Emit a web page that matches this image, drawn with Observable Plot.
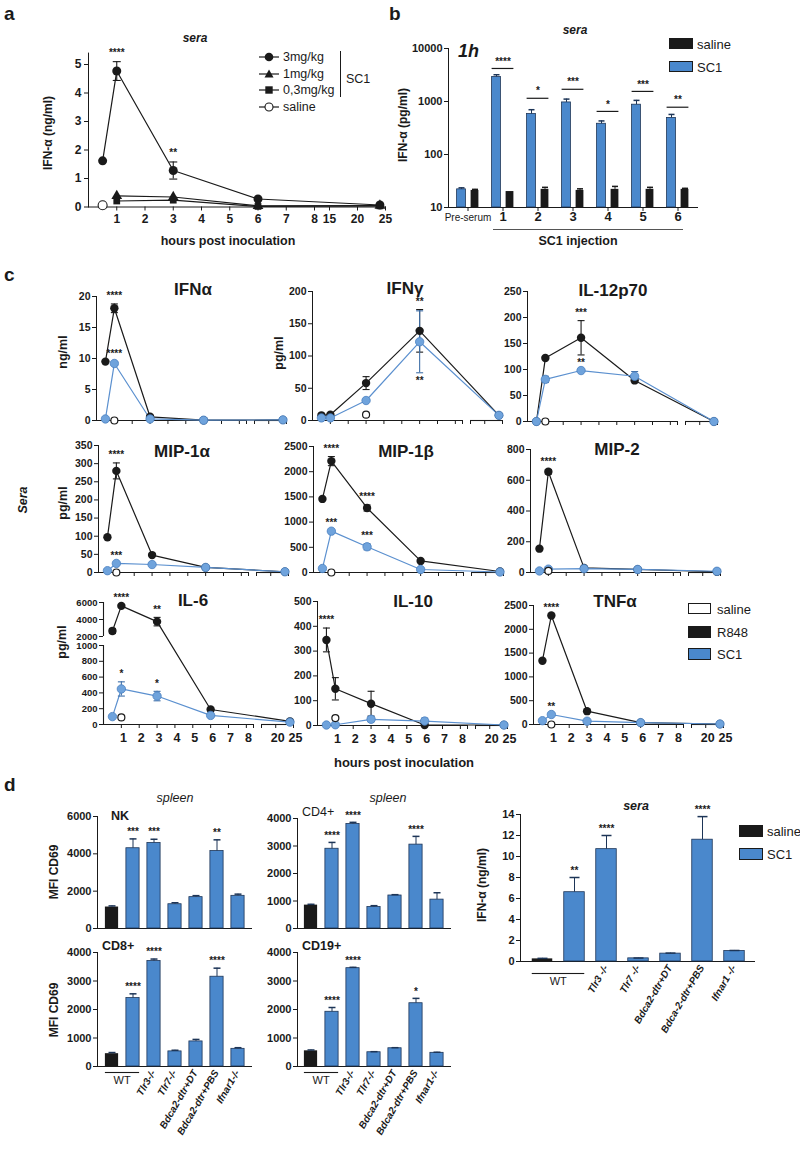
<!DOCTYPE html>
<html><head><meta charset="utf-8">
<script src="https://cdn.jsdelivr.net/npm/d3@7"></script>
<script src="https://cdn.jsdelivr.net/npm/@observablehq/plot@0.6"></script>
<style>
body{margin:0;background:#fff;}
#fig{position:relative;width:800px;height:1150px;overflow:hidden;font-family:"Liberation Sans",Arial,Helvetica,sans-serif;color:#1a1a1a;background:#fff;}
#fig svg{position:absolute;left:0;top:0;}
.t{position:absolute;white-space:nowrap;line-height:1;}
.sw{position:absolute;box-sizing:border-box;border:1.2px solid #1a1a1a;}
</style></head><body><div id="fig"></div>
<script>
// ================= DATA =================
// Panel a
const aHours = [0.5, 1, 3, 6, 24];
const a3mg = [1.62, 4.77, 1.28, 0.28, 0.07];
const a3mgErr = [0, 0.33, 0.30, 0, 0];
const a3mgSig = ["", "****", "**", "", ""];
const aHoursLow = [1, 3, 6, 24];
const a1mg = [0.39, 0.35, 0.04, 0.05];
const a03mg = [0.21, 0.24, 0.02, 0.04];
const aSalineHours = [0.5];
const aSaline = [0.06];
const aXTicks = [1, 2, 3, 4, 5, 6, 7, 8, 15, 20, 25];
const aYTicks = [0, 1, 2, 3, 4, 5];

// Panel b
const bGroups = ["Pre-serum", "1", "2", "3", "4", "5", "6"];
const bSC1 = [22, 2900, 580, 960, 380, 870, 490];
const bSC1Err = [1.5, 300, 120, 150, 50, 180, 80];
const bSaline = [21, 20, 22, 21, 22, 22, 22];
const bSalineErr = [1, 0, 2, 1.5, 3, 2, 1];
const bSig = ["", "****", "*", "***", "*", "***", "**"];
const bSigLevel = [0, 4200, 1150, 1700, 650, 1550, 780];
const bYTicks = [10, 100, 1000, 10000];

// Panel c (time points in hours)
const cTimes = [0.5, 1, 3, 6, 24];
const cXTicks = [1, 2, 3, 4, 5, 6, 7, 8, 8.4, 16, 20, 25];
const cXLabels = [1, 2, 3, 4, 5, 6, 7, 8, 20, 25];

const IFNa_R848 = [9.5, 18.1, 0.6, 0.05, 0.1], IFNa_R848_err = [0, 0.7, 0, 0, 0], IFNa_R848_sig = ["", "****", "", "", ""];
const IFNa_SC1 = [0.25, 9.2, 0.25, 0.05, 0.1], IFNa_SC1_err = [0, 0.3, 0, 0, 0], IFNa_SC1_sig = ["", "****", "", "", ""];
const IFNa_saline = [1, 0];

const IFNg_R848 = [8, 9, 58, 139, 8], IFNg_R848_err = [0, 0, 10, 33, 0], IFNg_R848_sig = ["", "", "", "**", ""];
const IFNg_SC1 = [4, 4, 31, 122, 8], IFNg_SC1_err = [0, 0, 0, 48, 0], IFNg_SC1_sig = ["", "", "", "**", ""];
const IFNg_saline = [3, 9];

const IL12_R848 = [0, 122, 161, 79, 0], IL12_R848_err = [0, 0, 33, 0, 0], IL12_R848_sig = ["", "", "***", "", ""];
const IL12_SC1 = [0, 81, 98, 87, 0], IL12_SC1_err = [0, 6, 0, 9, 0], IL12_SC1_sig = ["", "", "**", "", ""];
const IL12_saline = [1, 0];

const MIP1a_R848 = [97, 280, 48, 14, 2], MIP1a_R848_err = [0, 22, 0, 0, 0], MIP1a_R848_sig = ["", "****", "", "", ""];
const MIP1a_SC1 = [5, 25, 22, 14, 2], MIP1a_SC1_err = [0, 0, 0, 0, 0], MIP1a_SC1_sig = ["", "***", "", "", ""];
const MIP1a_saline = [1, 0];

const MIP1b_R848 = [1460, 2210, 1280, 230, 20], MIP1b_R848_err = [0, 90, 60, 0, 0], MIP1b_R848_sig = ["", "****", "****", "", ""];
const MIP1b_SC1 = [80, 820, 510, 60, 10], MIP1b_SC1_err = [0, 0, 60, 0, 0], MIP1b_SC1_sig = ["", "***", "***", "", ""];
const MIP1b_saline = [1, 0];

const MIP2_R848 = [155, 655, 30, 20, 5], MIP2_R848_err = [0, 15, 0, 0, 0], MIP2_R848_sig = ["", "****", "", "", ""];
const MIP2_SC1 = [10, 22, 25, 20, 8], MIP2_SC1_err = [0, 0, 0, 0, 0], MIP2_SC1_sig = ["", "", "", "", ""];
const MIP2_saline = [1, 10];

const IL6_R848 = [2650, 5600, 3750, 190, 40], IL6_R848_err = [300, 0, 500, 0, 0], IL6_R848_sig = ["", "****", "**", "", ""];
const IL6_SC1 = [100, 450, 360, 115, 30], IL6_SC1_err = [0, 90, 60, 0, 0], IL6_SC1_sig = ["", "*", "*", "", ""];
const IL6_saline = [1, 90];

const IL10_R848 = [345, 148, 88, 2, 2], IL10_R848_err = [48, 45, 50, 0, 0], IL10_R848_sig = ["****", "", "", "", ""];
const IL10_SC1 = [2, 3, 25, 18, 2], IL10_SC1_err = [0, 0, 10, 12, 0], IL10_SC1_sig = ["", "", "", "", ""];
const IL10_saline = [1, 30];

const TNF_R848 = [1340, 2290, 280, 40, 10], TNF_R848_err = [0, 0, 0, 0, 0], TNF_R848_sig = ["", "****", "", "", ""];
const TNF_SC1 = [80, 210, 70, 40, 10], TNF_SC1_err = [0, 0, 0, 0, 0], TNF_SC1_sig = ["", "**", "", "", ""];
const TNF_saline = [1, 0];

// Panel d
const dGroups = ["WT saline", "WT", "Tlr3-/-", "Tlr7-/-", "Bdca2-dtr+DT", "Bdca2-dtr+PBS", "Ifnar1-/-"];
const dLabelsLeft = ["", "", "Tlr3-/-", "Tlr7-/-", "Bdca2-dtr+DT", "Bdca2-dtr+PBS", "Ifnar1-/-"];
const dLabelsRight = ["", "", "Tlr3 -/-", "Tlr7 -/-", "Bdca2-dtr+DT", "Bdca-2-dtr+PBS", "Ifnar1 -/-"];
const NK = [1150, 4300, 4580, 1300, 1680, 4150, 1750], NK_err = [60, 500, 200, 80, 80, 600, 90], NK_sig = ["", "***", "***", "", "", "**", ""];
const CD4 = [850, 2900, 3800, 780, 1200, 3050, 1050], CD4_err = [30, 230, 60, 50, 30, 300, 250], CD4_sig = ["", "****", "****", "", "", "****", ""];
const CD8 = [450, 2400, 3700, 530, 880, 3150, 620], CD8_err = [40, 150, 70, 40, 70, 300, 40], CD8_sig = ["", "****", "****", "", "", "****", ""];
const CD19 = [550, 1920, 3450, 500, 640, 2220, 480], CD19_err = [30, 150, 30, 20, 20, 170, 20], CD19_sig = ["", "****", "****", "", "", "*", ""];
const SERA = [0.25, 6.6, 10.7, 0.3, 0.75, 11.6, 1.0], SERA_err = [0.05, 1.4, 1.3, 0.03, 0.05, 2.2, 0.05], SERA_sig = ["", "**", "****", "", "", "****", ""];

// ================= STYLE / HELPERS =================
const FONT = '"Liberation Sans", Arial, Helvetica, sans-serif';
const BLACK = "#1a1a1a";
const BLUE = "#4a88cc";
const BLUE_STROKE = "#1d3557";
const LBLUE = "#6fa3dc";
const LBLUE_LINE = "#5b90cf";
const fig = document.getElementById("fig");
const cap = {draw(ctx, size) { const r = Math.sqrt(size / Math.PI); ctx.moveTo(-r, 0); ctx.lineTo(r, 0); }};
const fmt = d => String(d);

function txt(s, x, y, o = {}) {
  const d = document.createElement("div");
  d.className = "t";
  d.textContent = s;
  d.style.fontSize = (o.size || 12) + "px";
  d.style.fontWeight = o.weight || "bold";
  d.style.fontStyle = o.italic ? "italic" : "normal";
  d.style.left = x + "px";
  d.style.top = y + "px";
  const ax = o.anchor === "start" ? "0%" : o.anchor === "end" ? "-100%" : "-50%";
  d.style.transform = `translate(${ax}, -50%)` + (o.rotate ? ` rotate(${o.rotate}deg)` : "");
  fig.appendChild(d);
}
function box(x, y, w, h, fill) {
  const d = document.createElement("div");
  d.className = "sw";
  Object.assign(d.style, {left: x + "px", top: y + "px", width: w + "px", height: h + "px", background: fill});
  fig.appendChild(d);
}
function P(L, R, T, B, opts, fs = 11) {
  const svg = Plot.plot(Object.assign({
    width: 800, height: 1150,
    marginLeft: L, marginRight: 800 - R, marginTop: T, marginBottom: 1150 - B,
    style: {background: "transparent", fontFamily: FONT, fontSize: fs + "px", fontWeight: "bold", color: BLACK, overflow: "visible"}
  }, opts));
  svg.style.position = "absolute"; svg.style.left = "0px"; svg.style.top = "0px";
  fig.appendChild(svg);
}

// ================= PANEL A =================
{
  const rows3 = aHours.map((t, i) => ({s: "3mg/kg", t, v: a3mg[i], e: a3mgErr[i], sig: a3mgSig[i]}));
  const rows1 = aHoursLow.map((t, i) => ({s: "1mg/kg", t, v: a1mg[i]}));
  const rows03 = aHoursLow.map((t, i) => ({s: "0,3mg/kg", t, v: a03mg[i]}));
  const sal = aSalineHours.map((t, i) => ({t, v: aSaline[i]}));
  const errs = rows3.filter(d => d.e > 0);
  const caps = errs.flatMap(d => [{t: d.t, y: d.v - d.e}, {t: d.t, y: d.v + d.e}]);
  P(88, 385, 52.6, 206.5, {
    x: {type: "linear", domain: [0, 8, 15, 25], range: [88, 314, 329, 385], ticks: aXTicks, tickFormat: fmt, tickSize: 4, tickPadding: 3, line: true, label: null},
    y: {type: "linear", domain: [0, 5.4], ticks: aYTicks, tickFormat: fmt, tickSize: 4, tickPadding: 3, line: true, label: null},
    marks: [
      Plot.line([...rows3, ...rows1, ...rows03], {x: "t", y: "v", z: "s", stroke: BLACK, strokeWidth: 1.2}),
      Plot.ruleX(errs, {x: "t", y1: d => d.v - d.e, y2: d => d.v + d.e, stroke: BLACK, strokeWidth: 1.1}),
      Plot.dot(caps, {x: "t", y: "y", symbol: cap, r: 4, stroke: BLACK, fill: "none", strokeWidth: 1.1}),
      Plot.dot(rows3, {x: "t", y: "v", r: 4.5, fill: BLACK}),
      Plot.dot(rows1, {x: "t", y: "v", symbol: "triangle", r: 4, fill: BLACK}),
      Plot.dot(rows03, {x: "t", y: "v", symbol: "square", r: 3.8, fill: BLACK}),
      Plot.dot(sal, {x: "t", y: "v", r: 4.5, fill: "white", stroke: BLACK, strokeWidth: 1.1}),
      Plot.text(rows3.filter(d => d.sig), {x: "t", y: d => d.v + d.e, text: "sig", dy: -9, fontSize: 10})
    ]
  }, 12);
  txt("a", 4, 13, {size: 19, anchor: "start"});
  txt("sera", 195, 38, {size: 12, italic: true});
  txt("IFN-α (ng/ml)", 48, 133, {size: 12, rotate: -90});
  txt("hours post inoculation", 228, 241, {size: 12.5});
  // legend
  const leg = [["3mg/kg", "circle"], ["1mg/kg", "triangle"], ["0,3mg/kg", "square"], ["saline", "open"]];
  const legY = [57, 74, 90, 107];
  leg.forEach(([lab, sym], i) => {
    const s = document.createElementNS("http://www.w3.org/2000/svg", "svg");
    s.setAttribute("width", 22); s.setAttribute("height", 12);
    s.style.left = "258px"; s.style.top = (legY[i] - 6) + "px";
    let g = `<line x1="1" y1="6" x2="21" y2="6" stroke="${BLACK}" stroke-width="1.2"/>`;
    if (sym === "circle") g += `<circle cx="11" cy="6" r="4.3" fill="${BLACK}"/>`;
    if (sym === "triangle") g += `<path d="M11,1.5 L15.5,9.5 L6.5,9.5Z" fill="${BLACK}"/>`;
    if (sym === "square") g += `<rect x="7.3" y="2.3" width="7.4" height="7.4" fill="${BLACK}"/>`;
    if (sym === "open") g += `<circle cx="11" cy="6" r="4" fill="white" stroke="${BLACK}" stroke-width="1.1"/>`;
    s.innerHTML = g;
    fig.appendChild(s);
    txt(lab, 283, legY[i], {size: 12.5, weight: "normal", anchor: "start"});
  });
  const bar = document.createElement("div");
  Object.assign(bar.style, {position: "absolute", left: "340px", top: "51px", width: "0px", height: "46px", borderLeft: "1.2px solid #1a1a1a"});
  fig.appendChild(bar);
  txt("SC1", 346, 79, {size: 12.5, weight: "normal", anchor: "start"});
}

// ================= PANEL B =================
{
  const sc1 = bGroups.map((g, i) => ({g, v: bSC1[i], e: bSC1Err[i]}));
  const sal = bGroups.map((g, i) => ({g, v: bSaline[i], e: bSalineErr[i]}));
  const sig = bGroups.map((g, i) => ({g, s: bSig[i], y: bSigLevel[i]})).filter(d => d.s);
  P(448, 697, 48, 207, {
    x: {type: "band", domain: bGroups, range: [449.4, 695.6], padding: 0, tickSize: 4, tickFormat: () => "", line: true, label: null},
    y: {type: "log", domain: [10, 10000], range: [207, 48], ticks: bYTicks, tickFormat: fmt, tickSize: 4, tickPadding: 2, line: true, label: null},
    marks: [
      Plot.barY(sc1, {x: "g", y1: 10, y2: "v", fill: BLUE, stroke: BLUE_STROKE, strokeWidth: 0.8, insetLeft: 6.6, insetRight: 19.6}),
      Plot.barY(sal, {x: "g", y1: 10, y2: "v", fill: BLACK, insetLeft: 20.6, insetRight: 6.6}),
      Plot.ruleX(sc1, {x: "g", y1: "v", y2: d => d.v + d.e, dx: -6.5, stroke: BLUE_STROKE}),
      Plot.dot(sc1, {x: "g", y: d => d.v + d.e, dx: -6.5, symbol: cap, r: 3, stroke: BLUE_STROKE, fill: "none"}),
      Plot.ruleX(sal.filter(d => d.e > 0), {x: "g", y1: "v", y2: d => d.v + d.e, dx: 7, stroke: BLACK}),
      Plot.dot(sal.filter(d => d.e > 0), {x: "g", y: d => d.v + d.e, dx: 7, symbol: cap, r: 3, stroke: BLACK, fill: "none"}),
      Plot.tickY(sig, {x: "g", y: "y", insetLeft: 6.6, insetRight: 6.6, stroke: BLACK, strokeWidth: 1.2}),
      Plot.text(sig, {x: "g", y: "y", text: "s", dy: -7, fontSize: 10}),
      Plot.text(bGroups.slice(0, 1), {x: d => d, frameAnchor: "bottom", dy: 13, fontSize: 10, fontWeight: "normal"}),
      Plot.text(bGroups.slice(1), {x: d => d, frameAnchor: "bottom", dy: 13, fontSize: 13})
    ]
  }, 11);
  txt("b", 389, 13, {size: 19, anchor: "start"});
  txt("sera", 575, 30, {size: 12, italic: true});
  txt("1h", 458, 51, {size: 18, italic: true, anchor: "start"});
  txt("IFN-α (pg/ml)", 403, 125, {size: 12, rotate: -90});
  const ln = document.createElement("div");
  Object.assign(ln.style, {position: "absolute", left: "493px", top: "229px", width: "190px", height: "0px", borderTop: "1.3px solid #555"});
  fig.appendChild(ln);
  txt("SC1 injection", 578, 241, {size: 12.5});
  box(669, 38, 24, 11, BLACK);
  txt("saline", 697, 44, {size: 13, weight: "normal", anchor: "start"});
  box(669, 61, 24, 11, BLUE);
  txt("SC1", 697, 67, {size: 13, weight: "normal", anchor: "start"});
}

// ================= PANEL C =================
const xBreak = [8.4, 16];
const cPanels = [
  {name: "IFNα", tx: 193, ty: 289, L: 96, T: 296, B: 420, dom: [0, 20], ticks: [0, 5, 10, 15, 20], R848: IFNa_R848, R848err: IFNa_R848_err, R848sig: IFNa_R848_sig, SC1: IFNa_SC1, SC1err: IFNa_SC1_err, SC1sig: IFNa_SC1_sig, saline: IFNa_saline},
  {name: "IFNγ", tx: 405, ty: 288, L: 312, T: 291, B: 420, dom: [0, 200], ticks: [0, 50, 100, 150, 200], R848: IFNg_R848, R848err: IFNg_R848_err, R848sig: IFNg_R848_sig, SC1: IFNg_SC1, SC1err: IFNg_SC1_err, SC1sig: IFNg_SC1_sig, saline: IFNg_saline, sc1Below: true},
  {name: "IL-12p70", tx: 613, ty: 290, L: 527, T: 291, B: 421, dom: [0, 250], ticks: [0, 50, 100, 150, 200, 250], R848: IL12_R848, R848err: IL12_R848_err, R848sig: IL12_R848_sig, SC1: IL12_SC1, SC1err: IL12_SC1_err, SC1sig: IL12_SC1_sig, saline: IL12_saline},
  {name: "MIP-1α", tx: 182, ty: 451, L: 98, T: 445, B: 572, dom: [0, 350], ticks: [0, 50, 100, 150, 200, 250, 300, 350], R848: MIP1a_R848, R848err: MIP1a_R848_err, R848sig: MIP1a_R848_sig, SC1: MIP1a_SC1, SC1err: MIP1a_SC1_err, SC1sig: MIP1a_SC1_sig, saline: MIP1a_saline},
  {name: "MIP-1β", tx: 406, ty: 451, L: 313, T: 446, B: 572, dom: [0, 2500], ticks: [0, 500, 1000, 1500, 2000, 2500], R848: MIP1b_R848, R848err: MIP1b_R848_err, R848sig: MIP1b_R848_sig, SC1: MIP1b_SC1, SC1err: MIP1b_SC1_err, SC1sig: MIP1b_SC1_sig, saline: MIP1b_saline},
  {name: "MIP-2", tx: 617, ty: 449, L: 530, T: 449, B: 572, dom: [0, 800], ticks: [0, 200, 400, 600, 800], R848: MIP2_R848, R848err: MIP2_R848_err, R848sig: MIP2_R848_sig, SC1: MIP2_SC1, SC1err: MIP2_SC1_err, SC1sig: MIP2_SC1_sig, saline: MIP2_saline},
  {name: "IL-6", tx: 193, ty: 600, L: 103, T: 602, B: 724, dom: [0, 1000, 2000, 6000], range: [724, 645, 636, 602], yBreak: [1000, 2000], ticks: [0, 200, 400, 600, 800, 1000, 2000, 4000, 6000], R848: IL6_R848, R848err: IL6_R848_err, R848sig: IL6_R848_sig, SC1: IL6_SC1, SC1err: IL6_SC1_err, SC1sig: IL6_SC1_sig, saline: IL6_saline, bottom: true, yfs: 9.5},
  {name: "IL-10", tx: 413, ty: 601, L: 317, T: 601, B: 725, dom: [0, 500], ticks: [0, 100, 200, 300, 400, 500], R848: IL10_R848, R848err: IL10_R848_err, R848sig: IL10_R848_sig, SC1: IL10_SC1, SC1err: IL10_SC1_err, SC1sig: IL10_SC1_sig, saline: IL10_saline, bottom: true},
  {name: "TNFα", tx: 615, ty: 601, L: 533, T: 605, B: 724, dom: [0, 2500], ticks: [0, 500, 1000, 1500, 2000, 2500], R848: TNF_R848, R848err: TNF_R848_err, R848sig: TNF_R848_sig, SC1: TNF_SC1, SC1err: TNF_SC1_err, SC1sig: TNF_SC1_sig, saline: TNF_saline, bottom: true}
];
function drawC(c) {
  const xr = [c.L, c.L + 150, c.L + 158, c.L + 190];
  const mk = (s, vals, errs, sigs) => cTimes.map((t, i) => ({s, t, v: vals[i], e: errs[i], sig: sigs[i]}));
  const r848 = mk("R848", c.R848, c.R848err, c.R848sig);
  const sc1 = mk("SC1", c.SC1, c.SC1err, c.SC1sig);
  const er = r848.filter(d => d.e > 0), es = sc1.filter(d => d.e > 0);
  const capsOf = a => a.flatMap(d => [{t: d.t, y: d.v - d.e}, {t: d.t, y: d.v + d.e}]);
  const top = d => d.v + d.e, bot = d => d.v - d.e;
  const starsAbove = [...r848.filter(d => d.sig), ...(c.sc1Below ? [] : sc1.filter(d => d.sig))];
  const starsBelow = c.sc1Below ? sc1.filter(d => d.sig) : [];
  const marks = [
    Plot.ruleY([0], {x1: 0, x2: xBreak[0], stroke: BLACK, strokeWidth: 1.1}),
    Plot.ruleY([0], {x1: xBreak[1], x2: 25, stroke: BLACK, strokeWidth: 1.1})
  ];
  if (c.yBreak) {
    marks.push(Plot.ruleX([0], {y1: 0, y2: c.yBreak[0], stroke: BLACK, strokeWidth: 1.1}));
    marks.push(Plot.ruleX([0], {y1: c.yBreak[1], y2: c.dom[c.dom.length - 1], stroke: BLACK, strokeWidth: 1.1}));
  }
  marks.push(
    Plot.line(r848, {x: "t", y: "v", stroke: BLACK, strokeWidth: 1.2}),
    Plot.line(sc1, {x: "t", y: "v", stroke: LBLUE_LINE, strokeWidth: 1.2}),
    Plot.ruleX(er, {x: "t", y1: bot, y2: top, stroke: BLACK, strokeWidth: 1.1}),
    Plot.dot(capsOf(er), {x: "t", y: "y", symbol: cap, r: 3.5, stroke: BLACK, fill: "none", strokeWidth: 1.1}),
    Plot.ruleX(es, {x: "t", y1: bot, y2: top, stroke: "#3f6fa8", strokeWidth: 1.1}),
    Plot.dot(capsOf(es), {x: "t", y: "y", symbol: cap, r: 3.5, stroke: "#3f6fa8", fill: "none", strokeWidth: 1.1}),
    Plot.dot(r848, {x: "t", y: "v", r: 4.2, fill: BLACK}),
    Plot.dot(sc1, {x: "t", y: "v", r: 4.2, fill: LBLUE, stroke: "#4a80c0", strokeWidth: 0.8}),
    Plot.dot([{t: c.saline[0], v: c.saline[1]}], {x: "t", y: "v", r: 3.5, fill: "white", stroke: BLACK, strokeWidth: 1.2}),
    Plot.text(starsAbove, {x: "t", y: top, text: "sig", dy: -8, fontSize: 10}),
    Plot.text(starsBelow, {x: "t", y: bot, text: "sig", dy: 8, fontSize: 10})
  );
  if (c.bottom) marks.push(Plot.text(cXLabels, {x: d => d, frameAnchor: "bottom", text: d => String(d), dx: 2, dy: 17, fontSize: 12.5}));
  P(c.L, c.L + 192, c.T, c.B, {
    x: {type: "linear", domain: [0, xBreak[0], xBreak[1], 25], range: xr, ticks: cXTicks, tickSize: 4, tickFormat: () => "", line: false, label: null},
    y: {type: "linear", domain: c.dom, range: c.range || [c.B, c.T], ticks: c.ticks, tickFormat: fmt, tickSize: 4, tickPadding: 2, line: !c.yBreak, label: null},
    marks
  }, c.yfs || 10.5);
  txt(c.name, c.tx, c.ty, {size: 17});
}
cPanels.forEach(drawC);
txt("c", 4, 274, {size: 19, anchor: "start"});
txt("ng/ml", 63, 352, {size: 12.5, rotate: -90});
txt("pg/ml", 279, 353, {size: 12.5, rotate: -90});
txt("pg/ml", 63, 503, {size: 12.5, rotate: -90});
txt("pg/ml", 62, 642, {size: 12.5, rotate: -90});
txt("Sera", 23, 500, {size: 12.5, italic: true, rotate: -90});
txt("hours post inoculation", 404, 762, {size: 13});
box(688, 603, 23, 11, "white");
txt("saline", 717, 609, {size: 13, weight: "normal", anchor: "start"});
box(688, 626, 23, 12, BLACK);
txt("R848", 717, 632, {size: 13, weight: "normal", anchor: "start"});
box(688, 648, 23, 12, BLUE);
txt("SC1", 717, 654, {size: 13, weight: "normal", anchor: "start"});

// ================= PANEL D =================
function drawD(o) {
  const rows = dGroups.map((g, i) => ({g, v: o.vals[i], e: o.err[i], sig: o.sig[i], lab: o.labels ? o.labels[i] : ""}));
  const step = (o.band[1] - o.band[0]) / dGroups.length;
  const marks = [
    Plot.ruleY([0], {stroke: BLACK, strokeWidth: 1.1}),
    Plot.barY(rows.slice(0, 1), {x: "g", y: "v", fill: BLACK, insetLeft: o.inset, insetRight: o.inset}),
    Plot.barY(rows.slice(1), {x: "g", y: "v", fill: BLUE, stroke: BLUE_STROKE, strokeWidth: 0.8, insetLeft: o.inset, insetRight: o.inset}),
    Plot.ruleX(rows, {x: "g", y1: "v", y2: d => d.v + d.e, stroke: BLUE_STROKE, strokeWidth: 1}),
    Plot.dot(rows, {x: "g", y: d => d.v + d.e, symbol: cap, r: o.capR, stroke: BLUE_STROKE, fill: "none"}),
    Plot.text(rows.filter(d => d.sig), {x: "g", y: d => d.v + d.e, text: "sig", dy: -7, fontSize: 10})
  ];
  if (o.labels) {
    marks.push(
      Plot.text(rows.filter(d => d.lab), {x: "g", frameAnchor: "bottom", text: "lab", rotate: -60, textAnchor: "end", dy: o.labDy, dx: 2, fontSize: 10, fontStyle: "italic"}),
      Plot.tickY(rows.slice(0, 1), {x: "g", y: () => 0, dy: o.wtDy, insetLeft: o.inset, insetRight: 0, stroke: BLACK, strokeWidth: 1.1}),
      Plot.tickY(rows.slice(1, 2), {x: "g", y: () => 0, dy: o.wtDy, insetLeft: 0, insetRight: o.inset, stroke: BLACK, strokeWidth: 1.1}),
      Plot.text(rows.slice(1, 2), {x: "g", frameAnchor: "bottom", text: () => "WT", dx: -step / 2, dy: o.wtDy + 11, fontSize: 11, fontWeight: "normal"})
    );
  }
  P(o.L, o.R, o.T, o.B, {
    x: {type: "band", domain: dGroups, range: o.band, padding: 0, axis: null},
    y: {type: "linear", domain: o.dom, ticks: o.ticks, tickFormat: fmt, tickSize: 4, tickPadding: 2, line: true, label: null},
    marks
  }, 11);
}
drawD({L: 97, R: 252, T: 816, B: 928, band: [98.1, 250.7], inset: 3.9, capR: 3.5, dom: [0, 6000], ticks: [0, 2000, 4000, 6000], vals: NK, err: NK_err, sig: NK_sig});
drawD({L: 297, R: 451, T: 818, B: 928, band: [297.1, 449.7], inset: 3.9, capR: 3.5, dom: [0, 4000], ticks: [0, 1000, 2000, 3000, 4000], vals: CD4, err: CD4_err, sig: CD4_sig});
drawD({L: 97, R: 252, T: 952, B: 1066, band: [98.1, 250.7], inset: 3.9, capR: 3.5, dom: [0, 4000], ticks: [0, 1000, 2000, 3000, 4000], vals: CD8, err: CD8_err, sig: CD8_sig, labels: dLabelsLeft, labDy: 6, wtDy: 6});
drawD({L: 297, R: 451, T: 952, B: 1066, band: [297.1, 449.7], inset: 3.9, capR: 3.5, dom: [0, 4000], ticks: [0, 1000, 2000, 3000, 4000], vals: CD19, err: CD19_err, sig: CD19_sig, labels: dLabelsLeft, labDy: 6, wtDy: 6});
drawD({L: 520, R: 755, T: 814, B: 961, band: [523.75, 752.25], inset: 5.75, capR: 5, dom: [0, 14], ticks: [0, 2, 4, 6, 8, 10, 12, 14], vals: SERA, err: SERA_err, sig: SERA_sig, labels: dLabelsRight, labDy: 6, wtDy: 12});
txt("d", 4, 784, {size: 19, anchor: "start"});
txt("spleen", 175, 798, {size: 12.5, italic: true, weight: "normal"});
txt("spleen", 388, 798, {size: 12.5, italic: true, weight: "normal"});
txt("sera", 636, 806, {size: 12.5, italic: true});
txt("NK", 111, 816, {size: 12.5, anchor: "start"});
txt("CD4+", 302, 812, {size: 12.5, weight: "normal", anchor: "start"});
txt("CD8+", 102, 946, {size: 12.5, anchor: "start"});
txt("CD19+", 302, 946, {size: 12.5, anchor: "start"});
txt("MFI CD69", 54, 872, {size: 12, rotate: -90});
txt("MFI CD69", 54, 1010, {size: 12, rotate: -90});
txt("IFN-α (ng/ml)", 482, 885, {size: 12, rotate: -90});
box(739, 825, 24, 12, BLACK);
txt("saline", 767, 831, {size: 13, weight: "normal", anchor: "start"});
box(739, 848, 24, 12, BLUE);
txt("SC1", 767, 854, {size: 13, weight: "normal", anchor: "start"});
</script></body></html>
